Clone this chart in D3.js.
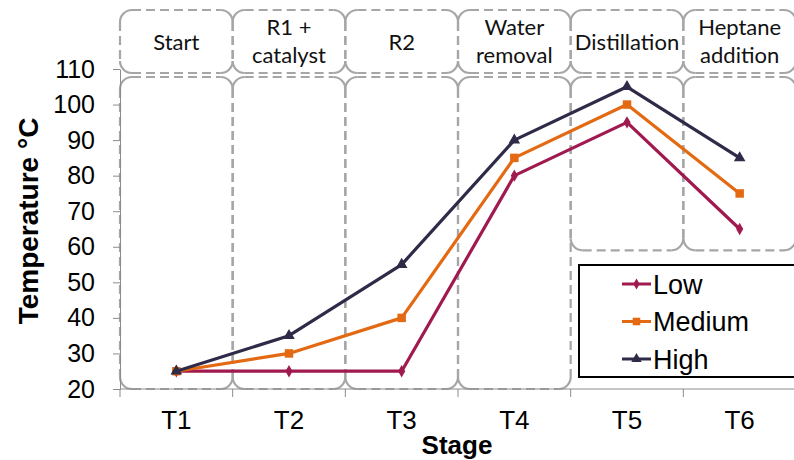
<!DOCTYPE html>
<html>
<head>
<meta charset="utf-8">
<script src="https://cdn.jsdelivr.net/npm/d3@7"></script>
<style>
  body { margin: 0; background: #fff; }
  svg { display: block; }
</style>
</head>
<body>
<svg id="chart" width="794" height="460"></svg>
<script>
// Process stages and the phase that each one belongs to
const stages = ["T1", "T2", "T3", "T4", "T5", "T6"];
const phases = [["Start"], ["R1 +", "catalyst"], ["R2"], ["Water", "removal"], ["Distillation"], ["Heptane", "addition"]];

// Temperature (°C) per stage for each heating profile
const lowTemps = [25, 25, 25, 80, 95, 65];
const mediumTemps = [25, 30, 40, 85, 100, 75];
const highTemps = [25, 35, 55, 90, 105, 85];
const seriesNames = ["Low", "Medium", "High"];

const yTickValues = [20, 30, 40, 50, 60, 70, 80, 90, 100, 110];

const series = [
  { name: seriesNames[0], values: lowTemps, color: "#A0194F", symbol: d3.symbolDiamond, size: 44 },
  { name: seriesNames[1], values: mediumTemps, color: "#E36A12", symbol: d3.symbolSquare, size: 72 },
  { name: seriesNames[2], values: highTemps, color: "#2F2A47", symbol: d3.symbolTriangle, size: 58 }
];

const svg = d3.select("#chart");
const x = d3.scaleBand().domain(stages).range([120, 796]);
const y = d3.scaleLinear().domain([20, 110]).range([389, 69]);
const cx = s => x(s) + x.bandwidth() / 2;

const gray = "#A6A6A6";
const axisGray = "#8C8C8C";
const sans = "'Liberation Sans', Arial, sans-serif";
const labelFont = "Lato, 'Open Sans', sans-serif";

// Dashed rounded panel; straight edges are dashed from the top down so
// shared edges of neighbouring panels line up, corners are solid arcs.
function dashedPanel(g, x0, y0, x1, y1, r) {
  const edges = [
    `M${x0 + r},${y0}H${x1 - r}`,
    `M${x0 + r},${y1}H${x1 - r}`,
    `M${x0},${y0 + r}V${y1 - r}`,
    `M${x1},${y0 + r}V${y1 - r}`
  ];
  const corners = [
    `M${x0},${y0 + r}A${r},${r} 0 0 1 ${x0 + r},${y0}`,
    `M${x1 - r},${y0}A${r},${r} 0 0 1 ${x1},${y0 + r}`,
    `M${x1},${y1 - r}A${r},${r} 0 0 1 ${x1 - r},${y1}`,
    `M${x0 + r},${y1}A${r},${r} 0 0 1 ${x0},${y1 - r}`
  ];
  edges.forEach(d => g.append("path").attr("d", d)
    .attr("fill", "none").attr("stroke", gray).attr("stroke-width", 2.2)
    .attr("stroke-dasharray", "9,5"));
  corners.forEach(d => g.append("path").attr("d", d)
    .attr("fill", "none").attr("stroke", gray).attr("stroke-width", 2.2));
}

const panels = svg.append("g");
stages.forEach((s, i) => {
  const x0 = x(s), x1 = x(s) + x.bandwidth();
  // phase header
  dashedPanel(panels, x0, 10, x1, 73, 12);
  // phase body (the last two phases stop above the legend)
  const floor = i < 4 ? y(20) : y(59);
  dashedPanel(panels, x0, 77, x1, floor, 12);

  const lines = phases[i];
  const t = panels.append("text")
    .attr("x", cx(s))
    .attr("text-anchor", "middle")
    .attr("font-family", labelFont)
    .attr("font-size", 22)
    .attr("fill", "#111");
  if (lines.length === 1) {
    t.append("tspan").attr("x", cx(s)).attr("y", 50).text(lines[0]);
  } else {
    t.append("tspan").attr("x", cx(s)).attr("y", 35).text(lines[0]);
    t.append("tspan").attr("x", cx(s)).attr("y", 63).text(lines[1]);
  }
});

// Y axis
const yAxis = svg.append("g")
  .attr("transform", `translate(${x.range()[0]},0)`)
  .call(d3.axisLeft(y).tickValues(yTickValues).tickSize(7).tickPadding(18).tickSizeOuter(0));
yAxis.select(".domain").attr("stroke", axisGray);
yAxis.selectAll(".tick line").attr("stroke", axisGray);
yAxis.selectAll(".tick text")
  .attr("font-family", sans).attr("font-size", 25).attr("fill", "#000");

// X axis: boundary ticks between stages, labels at stage centres
const xAxis = svg.append("g");
xAxis.append("line")
  .attr("x1", x.range()[0]).attr("x2", x.range()[1])
  .attr("y1", y(20)).attr("y2", y(20))
  .attr("stroke", axisGray);
const bounds = stages.map(s => x(s)).concat([x.range()[1]]);
xAxis.selectAll("line.b").data(bounds).join("line").attr("class", "b")
  .attr("x1", d => d).attr("x2", d => d)
  .attr("y1", y(20)).attr("y2", y(20) + 8)
  .attr("stroke", axisGray);
xAxis.selectAll("text").data(stages).join("text")
  .attr("x", d => cx(d)).attr("y", 429)
  .attr("text-anchor", "middle")
  .attr("font-family", sans).attr("font-size", 26).attr("fill", "#000")
  .text(d => d);

// Axis titles
svg.append("text")
  .attr("x", 457).attr("y", 454)
  .attr("text-anchor", "middle")
  .attr("font-family", sans).attr("font-weight", "bold").attr("font-size", 26)
  .text("Stage");
svg.append("text")
  .attr("transform", "translate(38,221) rotate(-90)")
  .attr("text-anchor", "middle")
  .attr("font-family", sans).attr("font-weight", "bold").attr("font-size", 28)
  .text("Temperature °C");

// Series lines and markers
const line = d3.line().x((d, i) => cx(stages[i])).y(d => y(d));
series.forEach(sr => {
  const g = svg.append("g");
  g.append("path").datum(sr.values)
    .attr("d", line)
    .attr("fill", "none").attr("stroke", sr.color).attr("stroke-width", 3.2)
    .attr("stroke-linejoin", "round");
  g.selectAll("path.m").data(sr.values).join("path").attr("class", "m")
    .attr("transform", (d, i) => `translate(${cx(stages[i])},${y(d)})`)
    .attr("d", d3.symbol().type(sr.symbol).size(sr.size))
    .attr("fill", sr.color);
});

// Legend
const legend = svg.append("g");
legend.append("rect")
  .attr("x", 579).attr("y", 265).attr("width", 230).attr("height", 112)
  .attr("fill", "#fff").attr("stroke", "#000").attr("stroke-width", 2);
series.forEach((sr, i) => {
  const ly = 284 + i * 37.5;
  legend.append("line")
    .attr("x1", 622).attr("x2", 651).attr("y1", ly).attr("y2", ly)
    .attr("stroke", sr.color).attr("stroke-width", 3);
  legend.append("path")
    .attr("transform", `translate(636.5,${ly})`)
    .attr("d", d3.symbol().type(sr.symbol).size(sr.size * 0.8))
    .attr("fill", sr.color);
  legend.append("text")
    .attr("x", 653).attr("y", ly).attr("dy", "0.36em")
    .attr("font-family", sans).attr("font-size", 27).attr("fill", "#000")
    .text(sr.name);
});
</script>
</body>
</html>
